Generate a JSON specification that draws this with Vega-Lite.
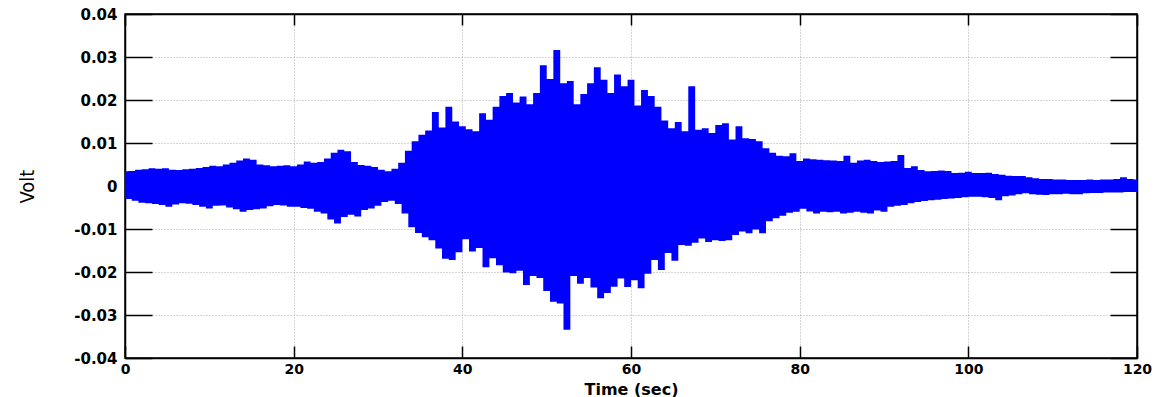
{
"$schema": "https://vega.github.io/schema/vega-lite/v6.json",
"width": 1012, "height": 344,
"autosize": "none",
"padding": {"left": 125, "top": 14, "right": 33, "bottom": 39},
"background": "white",
"config": {
  "view": {"stroke": "black", "strokeWidth": 1.5},
  "axis": {"domainColor": "black", "domainWidth": 1.5, "tickColor": "black", "tickWidth": 1.5, "labelColor": "black", "labelFont": "DejaVu Sans", "labelFontWeight": "bold", "labelFontSize": 15, "labelFlush": false, "labelOverlap": false, "gridColor": "#a8a8a8", "gridDash": [1, 2], "gridWidth": 1, "gridOpacity": 1}
},
"data": {"values": [
{"time":0,"volt":0.0030},{"time":0.4,"volt":-0.0026},{"time":0.8,"volt":0.0031},{"time":1.2,"volt":-0.0030},{"time":1.6,"volt":0.0034},{"time":2.0,"volt":-0.0035},{"time":2.4,"volt":0.0035},{"time":2.8,"volt":-0.0036},{"time":3.2,"volt":0.0037},{"time":3.6,"volt":-0.0038},
{"time":4.0,"volt":0.0036},{"time":4.4,"volt":-0.0040},{"time":4.8,"volt":0.0037},{"time":5.2,"volt":-0.0044},{"time":5.6,"volt":0.0034},{"time":6.0,"volt":-0.0039},{"time":6.4,"volt":0.0033},{"time":6.8,"volt":-0.0036},{"time":7.2,"volt":0.0035},{"time":7.6,"volt":-0.0037},
{"time":8.0,"volt":0.0036},{"time":8.4,"volt":-0.0040},{"time":8.8,"volt":0.0038},{"time":9.2,"volt":-0.0044},{"time":9.6,"volt":0.0040},{"time":10.0,"volt":-0.0048},{"time":10.4,"volt":0.0043},{"time":10.8,"volt":-0.0042},{"time":11.2,"volt":0.0042},{"time":11.6,"volt":-0.0041},
{"time":12.0,"volt":0.0046},{"time":12.4,"volt":-0.0046},{"time":12.8,"volt":0.0050},{"time":13.2,"volt":-0.0050},{"time":13.6,"volt":0.0055},{"time":14.0,"volt":-0.0056},{"time":14.4,"volt":0.0060},{"time":14.8,"volt":-0.0052},{"time":15.2,"volt":0.0057},{"time":15.6,"volt":-0.0050},
{"time":16.0,"volt":0.0046},{"time":16.4,"volt":-0.0048},{"time":16.8,"volt":0.0044},{"time":17.2,"volt":-0.0043},{"time":17.6,"volt":0.0042},{"time":18.0,"volt":-0.0040},{"time":18.4,"volt":0.0043},{"time":18.8,"volt":-0.0041},{"time":19.2,"volt":0.0044},{"time":19.6,"volt":-0.0044},
{"time":20.0,"volt":0.0042},{"time":20.4,"volt":-0.0044},{"time":20.8,"volt":0.0046},{"time":21.2,"volt":-0.0047},{"time":21.6,"volt":0.0053},{"time":22.0,"volt":-0.0049},{"time":22.4,"volt":0.0050},{"time":22.8,"volt":-0.0056},{"time":23.2,"volt":0.0052},{"time":23.6,"volt":-0.0060},
{"time":24.0,"volt":0.0060},{"time":24.4,"volt":-0.0074},{"time":24.8,"volt":0.0073},{"time":25.2,"volt":-0.0083},{"time":25.6,"volt":0.0080},{"time":26.0,"volt":-0.0068},{"time":26.4,"volt":0.0077},{"time":26.8,"volt":-0.0063},{"time":27.2,"volt":0.0052},{"time":27.6,"volt":-0.0067},
{"time":28.0,"volt":0.0045},{"time":28.4,"volt":-0.0052},{"time":28.8,"volt":0.0043},{"time":29.2,"volt":-0.0048},{"time":29.6,"volt":0.0040},{"time":30.0,"volt":-0.0042},{"time":30.4,"volt":0.0034},{"time":30.8,"volt":-0.0033},{"time":31.2,"volt":0.0030},{"time":31.6,"volt":-0.0030},
{"time":32.0,"volt":0.0036},{"time":32.4,"volt":-0.0038},{"time":32.8,"volt":0.0050},{"time":33.2,"volt":-0.0060},{"time":33.6,"volt":0.0078},{"time":34.0,"volt":-0.0092},{"time":34.4,"volt":0.0100},{"time":34.8,"volt":-0.0105},{"time":35.2,"volt":0.0115},{"time":35.6,"volt":-0.0115},
{"time":36.0,"volt":0.0125},{"time":36.4,"volt":-0.0122},{"time":36.8,"volt":0.0168},{"time":37.2,"volt":-0.0141},{"time":37.6,"volt":0.0132},{"time":38.0,"volt":-0.0165},{"time":38.4,"volt":0.0180},{"time":38.8,"volt":-0.0168},{"time":39.2,"volt":0.0146},{"time":39.6,"volt":-0.0150},
{"time":40.0,"volt":0.0135},{"time":40.4,"volt":-0.0120},{"time":40.8,"volt":0.0128},{"time":41.2,"volt":-0.0148},{"time":41.6,"volt":0.0123},{"time":42.0,"volt":-0.0140},{"time":42.4,"volt":0.0165},{"time":42.8,"volt":-0.0185},{"time":43.2,"volt":0.0150},{"time":43.6,"volt":-0.0164},
{"time":44.0,"volt":0.0180},{"time":44.4,"volt":-0.0180},{"time":44.8,"volt":0.0205},{"time":45.2,"volt":-0.0197},{"time":45.6,"volt":0.0212},{"time":46.0,"volt":-0.0199},{"time":46.4,"volt":0.0190},{"time":46.8,"volt":-0.0193},{"time":47.2,"volt":0.0204},{"time":47.6,"volt":-0.0226},
{"time":48.0,"volt":0.0186},{"time":48.4,"volt":-0.0205},{"time":48.8,"volt":0.0212},{"time":49.2,"volt":-0.0210},{"time":49.6,"volt":0.0277},{"time":50.0,"volt":-0.0240},{"time":50.4,"volt":0.0245},{"time":50.8,"volt":-0.0265},{"time":51.2,"volt":0.0312},{"time":51.6,"volt":-0.0269},
{"time":52.0,"volt":0.0235},{"time":52.4,"volt":-0.0330},{"time":52.8,"volt":0.0240},{"time":53.2,"volt":-0.0205},{"time":53.6,"volt":0.0186},{"time":54.0,"volt":-0.0223},{"time":54.4,"volt":0.0210},{"time":54.8,"volt":-0.0210},{"time":55.2,"volt":0.0235},{"time":55.6,"volt":-0.0232},
{"time":56.0,"volt":0.0272},{"time":56.4,"volt":-0.0257},{"time":56.8,"volt":0.0243},{"time":57.2,"volt":-0.0245},{"time":57.6,"volt":0.0212},{"time":58.0,"volt":-0.0230},{"time":58.4,"volt":0.0255},{"time":58.8,"volt":-0.0211},{"time":59.2,"volt":0.0228},{"time":59.6,"volt":-0.0231},
{"time":60.0,"volt":0.0243},{"time":60.4,"volt":-0.0215},{"time":60.8,"volt":0.0183},{"time":61.2,"volt":-0.0234},{"time":61.6,"volt":0.0219},{"time":62.0,"volt":-0.0200},{"time":62.4,"volt":0.0205},{"time":62.8,"volt":-0.0168},{"time":63.2,"volt":0.0180},{"time":63.6,"volt":-0.0191},
{"time":64.0,"volt":0.0148},{"time":64.4,"volt":-0.0152},{"time":64.8,"volt":0.0130},{"time":65.2,"volt":-0.0170},{"time":65.6,"volt":0.0145},{"time":66.0,"volt":-0.0133},{"time":66.4,"volt":0.0123},{"time":66.8,"volt":-0.0135},{"time":67.2,"volt":0.0228},{"time":67.6,"volt":-0.0128},
{"time":68.0,"volt":0.0127},{"time":68.4,"volt":-0.0118},{"time":68.8,"volt":0.0130},{"time":69.2,"volt":-0.0126},{"time":69.6,"volt":0.0119},{"time":70.0,"volt":-0.0122},{"time":70.4,"volt":0.0138},{"time":70.8,"volt":-0.0124},{"time":71.2,"volt":0.0142},{"time":71.6,"volt":-0.0122},
{"time":72.0,"volt":0.0104},{"time":72.4,"volt":-0.0110},{"time":72.8,"volt":0.0135},{"time":73.2,"volt":-0.0102},{"time":73.6,"volt":0.0107},{"time":74.0,"volt":-0.0106},{"time":74.4,"volt":0.0105},{"time":74.8,"volt":-0.0097},{"time":75.2,"volt":0.0100},{"time":75.6,"volt":-0.0106},
{"time":76.0,"volt":0.0084},{"time":76.4,"volt":-0.0078},{"time":76.8,"volt":0.0073},{"time":77.2,"volt":-0.0071},{"time":77.6,"volt":0.0066},{"time":78.0,"volt":-0.0065},{"time":78.4,"volt":0.0065},{"time":78.8,"volt":-0.0058},{"time":79.2,"volt":0.0072},{"time":79.6,"volt":-0.0056},
{"time":80.0,"volt":0.0054},{"time":80.4,"volt":-0.0049},{"time":80.8,"volt":0.0060},{"time":81.2,"volt":-0.0055},{"time":81.6,"volt":0.0058},{"time":82.0,"volt":-0.0060},{"time":82.4,"volt":0.0057},{"time":82.8,"volt":-0.0056},{"time":83.2,"volt":0.0056},{"time":83.6,"volt":-0.0057},
{"time":84.0,"volt":0.0055},{"time":84.4,"volt":-0.0056},{"time":84.8,"volt":0.0054},{"time":85.2,"volt":-0.0060},{"time":85.6,"volt":0.0066},{"time":86.0,"volt":-0.0058},{"time":86.4,"volt":0.0050},{"time":86.8,"volt":-0.0056},{"time":87.2,"volt":0.0055},{"time":87.6,"volt":-0.0058},
{"time":88.0,"volt":0.0057},{"time":88.4,"volt":-0.0060},{"time":88.8,"volt":0.0054},{"time":89.2,"volt":-0.0053},{"time":89.6,"volt":0.0052},{"time":90.0,"volt":-0.0056},{"time":90.4,"volt":0.0053},{"time":90.8,"volt":-0.0044},{"time":91.2,"volt":0.0054},{"time":91.6,"volt":-0.0042},
{"time":92.0,"volt":0.0068},{"time":92.4,"volt":-0.0040},{"time":92.8,"volt":0.0038},{"time":93.2,"volt":-0.0036},{"time":93.6,"volt":0.0042},{"time":94.0,"volt":-0.0033},{"time":94.4,"volt":0.0033},{"time":94.8,"volt":-0.0031},{"time":95.2,"volt":0.0030},{"time":95.6,"volt":-0.0029},
{"time":96.0,"volt":0.0031},{"time":96.4,"volt":-0.0028},{"time":96.8,"volt":0.0032},{"time":97.2,"volt":-0.0026},{"time":97.6,"volt":0.0031},{"time":98.0,"volt":-0.0025},{"time":98.4,"volt":0.0026},{"time":98.8,"volt":-0.0024},{"time":99.2,"volt":0.0027},{"time":99.6,"volt":-0.0022},
{"time":100.0,"volt":0.0029},{"time":100.4,"volt":-0.0021},{"time":100.8,"volt":0.0026},{"time":101.2,"volt":-0.0021},{"time":101.6,"volt":0.0026},{"time":102.0,"volt":-0.0022},{"time":102.4,"volt":0.0027},{"time":102.8,"volt":-0.0024},{"time":103.2,"volt":0.0024},{"time":103.6,"volt":-0.0029},
{"time":104.0,"volt":0.0022},{"time":104.4,"volt":-0.0020},{"time":104.8,"volt":0.0020},{"time":105.2,"volt":-0.0018},{"time":105.6,"volt":0.0019},{"time":106.0,"volt":-0.0015},{"time":106.4,"volt":0.0019},{"time":106.8,"volt":-0.0013},{"time":107.2,"volt":0.0016},{"time":107.6,"volt":-0.0015},
{"time":108.0,"volt":0.0014},{"time":108.4,"volt":-0.0016},{"time":108.8,"volt":0.0012},{"time":109.2,"volt":-0.0017},{"time":109.6,"volt":0.0012},{"time":110.0,"volt":-0.0015},{"time":110.4,"volt":0.0011},{"time":110.8,"volt":-0.0015},{"time":111.2,"volt":0.0011},{"time":111.6,"volt":-0.0014},
{"time":112.0,"volt":0.0010},{"time":112.4,"volt":-0.0015},{"time":112.8,"volt":0.0010},{"time":113.2,"volt":-0.0015},{"time":113.6,"volt":0.0010},{"time":114.0,"volt":-0.0013},{"time":114.4,"volt":0.0011},{"time":114.8,"volt":-0.0012},{"time":115.2,"volt":0.0010},{"time":115.6,"volt":-0.0012},
{"time":116.0,"volt":0.0011},{"time":116.4,"volt":-0.0011},{"time":116.8,"volt":0.0011},{"time":117.2,"volt":-0.0011},{"time":117.6,"volt":0.0012},{"time":118.0,"volt":-0.0011},{"time":118.4,"volt":0.0016},{"time":118.8,"volt":-0.0010},{"time":119.2,"volt":0.0012},{"time":119.6,"volt":-0.0010},
{"time":120.0,"volt":0.0011}
]},
"layer": [
  {
    "mark": {"type": "line", "color": "#0000ff", "strokeWidth": 3.5, "interpolate": "step", "clip": true},
    "encoding": {
      "x": {"field": "time", "type": "quantitative",
        "scale": {"domain": [0, 120], "nice": false, "zero": false},
        "axis": {"orient": "bottom", "values": [0, 20, 40, 60, 80, 100, 120], "grid": true, "tickSize": -12, "labelPadding": 16, "labelFontSize": 14,
          "title": "Time (sec)", "titleFont": "DejaVu Sans", "titleFontWeight": "bold", "titleFontSize": 16, "titleColor": "black",
          "titleX": 506, "titleY": 36, "titleBaseline": "alphabetic", "titleAlign": "center"}},
      "y": {"field": "volt", "type": "quantitative",
        "scale": {"domain": [-0.04, 0.04], "nice": false, "zero": false},
        "axis": {"orient": "left", "values": [-0.04, -0.03, -0.02, -0.01, 0, 0.01, 0.02, 0.03, 0.04], "grid": true, "tickSize": -27, "labelPadding": 35,
          "labelExpr": "datum.value == 0 ? '0' : (datum.value < 0 ? '-' + format(-datum.value, '.2f') : format(datum.value, '.2f'))",
          "title": "Volt", "titleFont": "DejaVu Sans Condensed, Liberation Sans, sans-serif", "titleFontWeight": "normal", "titleFontSize": 20, "titleColor": "black",
          "titleX": -98, "titleY": 172, "titleAngle": -90, "titleBaseline": "middle", "titleAlign": "center"}}
    }
  },
  {
    "mark": {"type": "point", "opacity": 0},
    "encoding": {
      "x": {"field": "time", "type": "quantitative",
        "axis": {"orient": "top", "values": [0, 20, 40, 60, 80, 100, 120], "grid": false, "labels": false, "title": null, "tickSize": -11}},
      "y": {"field": "volt", "type": "quantitative",
        "axis": {"orient": "right", "values": [-0.04, -0.03, -0.02, -0.01, 0, 0.01, 0.02, 0.03, 0.04], "grid": false, "labels": false, "title": null, "tickSize": -27}}
    }
  }
],
"resolve": {"axis": {"x": "independent", "y": "independent"}}
}
